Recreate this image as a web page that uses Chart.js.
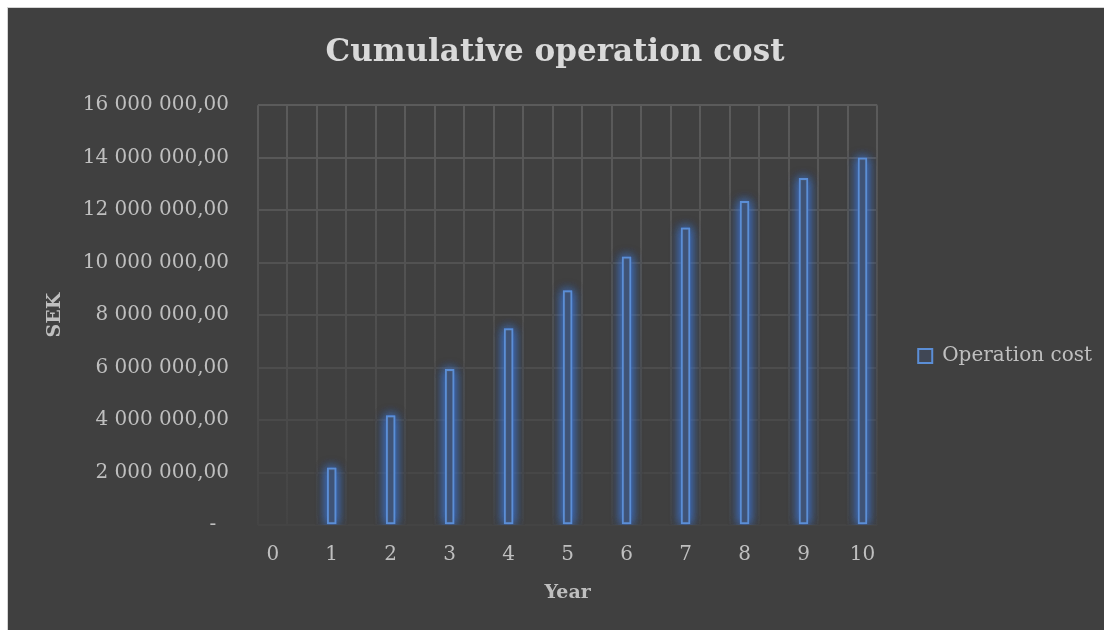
<!DOCTYPE html>
<html>
<head>
<meta charset="utf-8">
<script src="https://cdn.jsdelivr.net/npm/chart.js@4"></script>
<style>
  html, body { margin: 0; padding: 0; background: #fff; overflow: hidden; }
  #wrap {
    position: absolute; left: 7px; top: 7px;
    width: 1096px; height: 696px;
    background: #404040;
    border-top: 1px solid #d4d4d4; border-left: 1px solid #d4d4d4;
  }
  canvas { display: block; }
</style>
</head>
<body>
<div id="wrap"><canvas id="grafico" width="1096" height="696"></canvas></div>
<script>
const anos = [0, 1, 2, 3, 4, 5, 6, 7, 8, 9, 10];
const custoOperacao = [0, 2180000, 4170000, 5930000, 7490000, 8930000, 10220000, 11330000, 12340000, 13210000, 13990000];
const ticksY = [0, 2000000, 4000000, 6000000, 8000000, 10000000, 12000000, 14000000, 16000000];

const fonte = 'DejaVu Serif';
const corTexto = '#bfbfbf';

function formatarSek(v) {
  if (v === 0) return '-  ';
  return String(Math.round(v)).replace(/\B(?=(\d{3})+(?!\d))/g, ' ') + ',00';
}

// linhas verticais da grade ficam entre as barras (c - 0.25 e c + 0.25)
const gradeX = [];
anos.forEach(a => { gradeX.push(a - 0.25, a, a + 0.25); });

function corGrade(topo) {
  // grade mais clara em cima, quase some embaixo
  const t = Math.max(0, Math.min(1, topo));
  const c = Math.round(0x44 + (0x5b - 0x44) * t);
  return `rgb(${c},${c},${c})`;
}

let gradiente = null;
function gradienteVertical(chart) {
  const area = chart.chartArea;
  if (!area) return '#505050';
  if (!gradiente) {
    gradiente = chart.ctx.createLinearGradient(0, area.top, 0, area.bottom);
    gradiente.addColorStop(0, corGrade(1));
    gradiente.addColorStop(0.5, corGrade(0.5));
    gradiente.addColorStop(1, corGrade(0));
  }
  return gradiente;
}

// brilho azul em volta das barras (o BarElement recorta a sombra, entao desenho antes)
const brilho = {
  id: 'brilho',
  beforeDatasetsDraw(chart) {
    const ctx = chart.ctx;
    const area = chart.chartArea;
    ctx.save();
    ctx.beginPath();
    ctx.rect(area.left, area.top - 20, area.right - area.left, area.bottom - area.top + 20);
    ctx.clip();
    ctx.shadowColor = 'rgba(60, 125, 235, 1)';
    ctx.shadowBlur = 11;
    ctx.fillStyle = 'rgba(60, 110, 190, 0.5)';
    chart.getDatasetMeta(0).data.forEach(el => {
      const { x, y, base, width } = el.getProps(['x', 'y', 'base', 'width'], true);
      if (Math.abs(base - y) < 1) return;
      for (let k = 0; k < 3; k++) {
        ctx.fillRect(x - width / 2, Math.min(y, base), width, Math.abs(base - y));
      }
    });
    ctx.restore();
  }
};

new Chart(document.getElementById('grafico'), {
  type: 'bar',
  data: {
    datasets: [{
      label: 'Operation cost',
      data: anos.map((a, i) => ({ x: a, y: custoOperacao[i] })),
      backgroundColor: 'rgba(64, 74, 92, 0.75)',
      borderColor: '#5b8ed6',
      borderWidth: 2,
      borderSkipped: false,
      barThickness: 9
    }]
  },
  options: {
    responsive: false,
    animation: false,
    layout: { padding: { top: 0, left: 0, right: 2, bottom: 0 } },
    plugins: {
      title: {
        display: true,
        text: 'Cumulative operation cost',
        color: '#d9d9d9',
        font: { family: fonte, size: 31, weight: 'bold', lineHeight: 1.2 },
        padding: { top: 26, bottom: 34 }
      },
      legend: {
        position: 'right',
        align: 'center',
        labels: {
          color: corTexto,
          font: { family: fonte, size: 20 },
          boxWidth: 14,
          boxHeight: 14,
          padding: 41
        }
      },
      tooltip: { enabled: false }
    },
    scales: {
      x: {
        type: 'linear',
        offset: false,
        min: -0.25,
        max: 10.25,
        afterBuildTicks: s => { s.ticks = gradeX.map(v => ({ value: v })); },
        afterFit: s => { s.height = 179; },
        ticks: {
          autoSkip: false,
          maxRotation: 0,
          padding: 18,
          color: corTexto,
          font: { family: fonte, size: 20 },
          callback: v => Number.isInteger(v) ? String(v) : ''
        },
        grid: {
          offset: false,
          drawTicks: false,
          lineWidth: 2,
          color: ctx => (ctx.tick && Number.isInteger(ctx.tick.value)) ? 'rgba(0,0,0,0)' : gradienteVertical(ctx.chart)
        },
        border: { display: false },
        title: {
          display: true,
          text: 'Year',
          color: corTexto,
          font: { family: fonte, size: 19, weight: 'bold' },
          padding: { top: 0, bottom: 100 }
        }
      },
      y: {
        min: 0,
        max: 16000000,
        afterBuildTicks: s => { s.ticks = ticksY.map(v => ({ value: v })); },
        afterFit: s => { s.width = 250; },
        ticks: {
          padding: 29,
          color: corTexto,
          font: { family: fonte, size: 20 },
          callback: v => formatarSek(v)
        },
        grid: {
          drawTicks: false,
          lineWidth: 2,
          color: ctx => corGrade(ctx.tick ? ctx.tick.value / 16000000 : 1)
        },
        border: { display: false },
        title: {
          display: true,
          text: 'SEK',
          color: corTexto,
          font: { family: fonte, size: 19, weight: 'bold' },
          padding: { top: 36, bottom: 0 }
        }
      }
    }
  },
  plugins: [brilho]
});
</script>
</body>
</html>
